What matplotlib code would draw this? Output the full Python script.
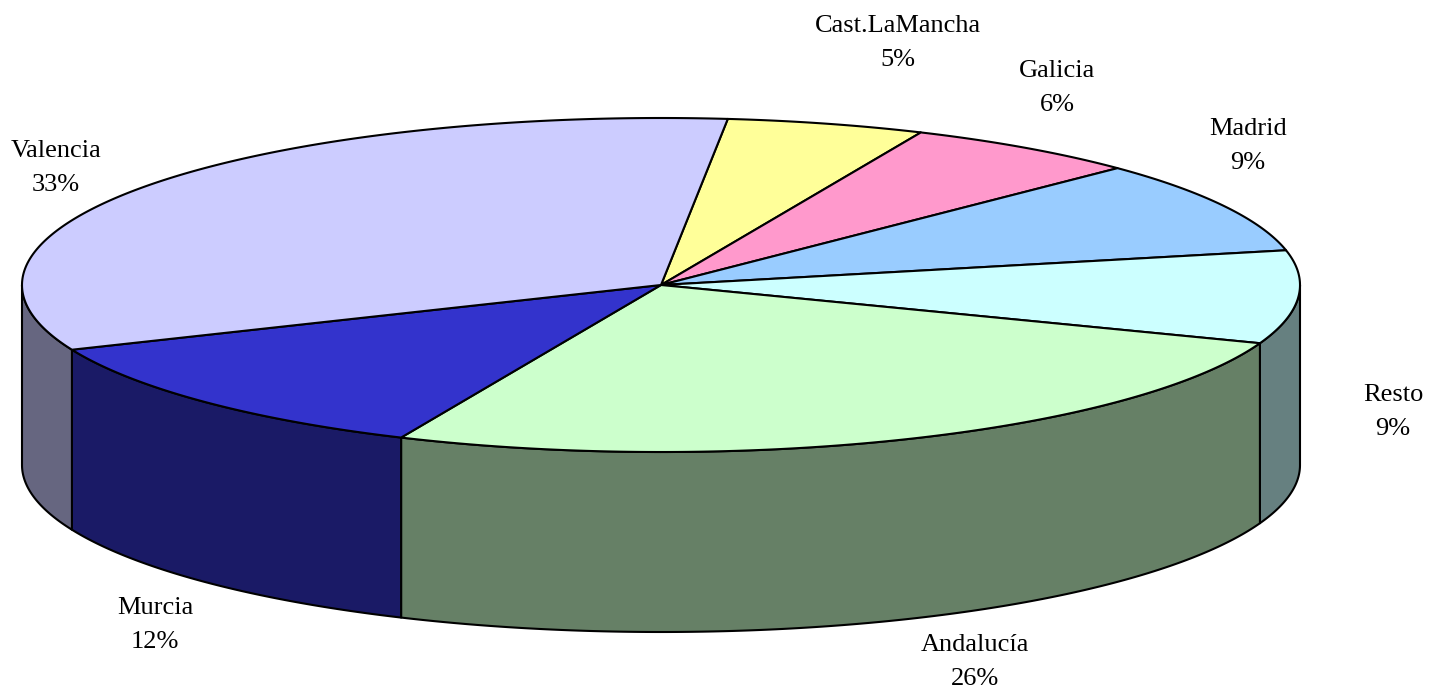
import numpy as np
import matplotlib.pyplot as plt
from matplotlib.patches import Polygon

# datos
regiones = ["Cast.LaMancha", "Galicia", "Madrid", "Resto", "Andalucía", "Murcia", "Valencia"]
porcentajes = [5, 6, 9, 9, 26, 12, 33]
colores = ["#FFFF99", "#FF99CC", "#99CCFF", "#CCFFFF", "#CCFFCC", "#3333CC", "#CCCCFF"]

# geometria (pixeles)
W, H = 1435, 689
cx, cy = 661, 285
rx, ry = 639, 167
depth = 180
start = 84.0

# posiciones de etiquetas (centro del bloque)
pos_etiquetas = {
    "Cast.LaMancha": (898, 43),
    "Galicia": (1057, 88),
    "Madrid": (1248, 146),
    "Resto": (1393, 412),
    "Andalucía": (975, 662),
    "Murcia": (155, 625),
    "Valencia": (56, 168),
}


def darker(hexcol, f=0.5):
    h = hexcol.lstrip("#")
    r, g, b = (int(h[i:i + 2], 16) / 255 for i in (0, 2, 4))
    return (r * f, g * f, b * f)


def arc(t0, t1, dy=0, n=200):
    t = np.radians(np.linspace(t0, t1, n))
    return np.column_stack([cx + rx * np.cos(t), cy + dy - ry * np.sin(t)])


fig = plt.figure(figsize=(W / 100, H / 100), dpi=100)
ax = fig.add_axes([0, 0, 1, 1])
ax.set_xlim(0, W)
ax.set_ylim(H, 0)
ax.axis("off")

total = float(sum(porcentajes))
angulos = []
a = start
for p in porcentajes:
    a1 = a - 360.0 * p / total
    angulos.append((a, a1))
    a = a1

# paredes laterales (solo mitad frontal: angulos entre -180 y 0)
for (a0, a1), col in zip(angulos, colores):
    for shift in (0, -360, 360):
        hi = min(a0 + shift, 0.0)
        lo = max(a1 + shift, -180.0)
        if hi > lo:
            top = arc(hi, lo)
            bot = arc(lo, hi, dy=depth)
            pts = np.vstack([top, bot])
            ax.add_patch(Polygon(pts, closed=True, facecolor=darker(col),
                                 edgecolor="black", linewidth=1.5, joinstyle="round"))

# caras superiores
for (a0, a1), col in zip(angulos, colores):
    pts = np.vstack([[cx, cy], arc(a0, a1)])
    ax.add_patch(Polygon(pts, closed=True, facecolor=col,
                         edgecolor="black", linewidth=1.5, joinstyle="round"))

# etiquetas
for nom, p in zip(regiones, porcentajes):
    x, y = pos_etiquetas[nom]
    ax.text(x, y, f"{nom}\n{p}%", ha="center", va="center",
            fontsize=19, family="Liberation Serif", linespacing=1.75)

fig.savefig("out.png", dpi=100)
